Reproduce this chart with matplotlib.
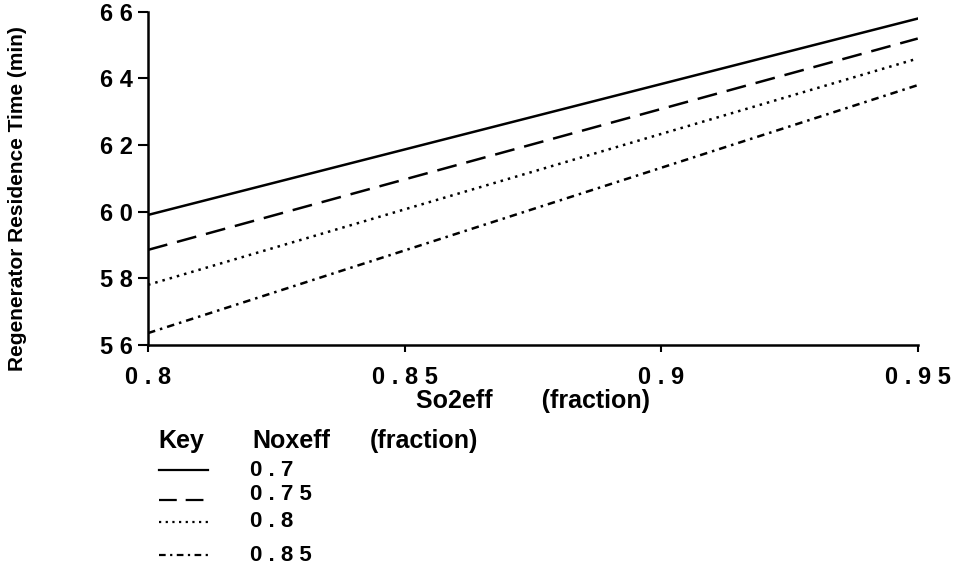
import matplotlib
matplotlib.use('Agg')
from matplotlib import pyplot as plt
from matplotlib.lines import Line2D

so2eff = [0.8, 0.95]
noxeff = ['0.7', '0.75', '0.8', '0.85']
time_07 = [59.9, 65.8]
time_075 = [58.85, 65.2]
time_08 = [57.8, 64.6]
time_085 = [56.35, 63.8]
series = [time_07, time_075, time_08, time_085]
styles = ['-', (0, (8, 4)), (0, (1, 2)), (0, (3, 2, 1, 2))]

x_ticks = [0.8, 0.85, 0.9, 0.95]
y_ticks = [56, 58, 60, 62, 64, 66]


def spaced(s):
    return ' '.join(s)


plt.rcParams['font.family'] = ['Liberation Sans', 'DejaVu Sans']
plt.rcParams['font.weight'] = 'bold'

fig = plt.figure(figsize=(9.55, 5.67), dpi=100)
ax = fig.add_axes([0.155, 0.392, 0.806, 0.587])

for vals, ls in zip(series, styles):
    ax.plot(so2eff, vals, color='black', linestyle=ls, linewidth=1.8)

ax.set_xlim(0.8, 0.95)
ax.set_ylim(56, 66)
ax.set_xticks(x_ticks)
ax.set_xticklabels([spaced('%g' % v) for v in x_ticks], fontsize=17, fontweight='bold')
ax.set_yticks(y_ticks)
ax.set_yticklabels([spaced('%d' % v) for v in y_ticks], fontsize=17, fontweight='bold')
ax.spines['top'].set_visible(False)
ax.spines['right'].set_visible(False)
ax.spines['left'].set_linewidth(1.8)
ax.spines['bottom'].set_linewidth(1.8)
ax.tick_params(axis='y', direction='out', length=7, width=1.5, pad=4)
ax.tick_params(axis='x', direction='out', length=5, width=1.5, pad=10)

ax.set_xlabel('So2eff       (fraction)', fontsize=18, fontweight='bold', labelpad=0)
fig.text(0.018, 0.65, 'Regenerator Residence Time (min)', rotation=90,
         fontsize=15, fontweight='bold', ha='center', va='center')

# key below the chart
fig.text(0.166, 0.222, 'Key', fontsize=18, fontweight='bold', va='center')
fig.text(0.264, 0.222, 'Noxeff', fontsize=18, fontweight='bold', va='center')
fig.text(0.387, 0.222, '(fraction)', fontsize=18, fontweight='bold', va='center')
line_y = [0.171, 0.118, 0.080, 0.021]
text_y = [0.171, 0.127, 0.080, 0.021]
for lab, ls, ly, ty in zip(noxeff, styles, line_y, text_y):
    fig.add_artist(Line2D([0.166, 0.218], [ly, ly], color='black',
                          linestyle=ls, linewidth=1.6))
    fig.text(0.262, ty, spaced(lab), fontsize=16, fontweight='bold', va='center')

fig.savefig('out.png', dpi=100)
